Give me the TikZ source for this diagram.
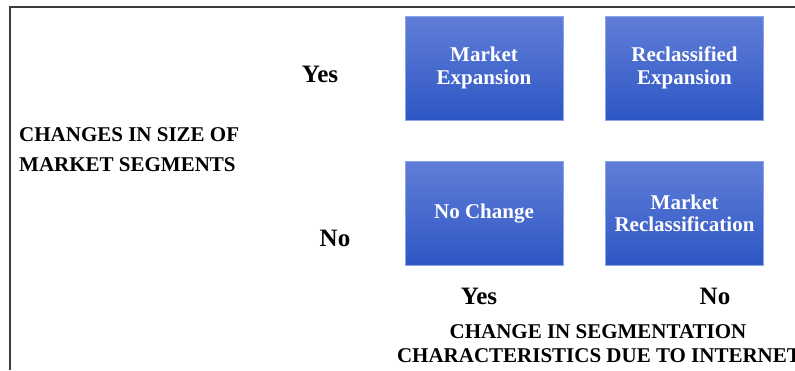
\documentclass[tikz,border=0pt]{standalone}
\usepackage{fontspec}
\setmainfont{Liberation Serif}
\definecolor{boxtop}{RGB}{96,126,216}
\definecolor{boxbot}{RGB}{46,86,196}
\definecolor{boxedge}{RGB}{140,165,232}
\definecolor{frameline}{RGB}{60,60,60}
\tikzset{
  quad/.style={rectangle, minimum width=158pt, minimum height=104pt, top color=boxtop, bottom color=boxbot, draw=boxedge, line width=0.8pt, text=white, font=\bfseries\fontsize{21}{22.5}\selectfont, align=center, inner sep=0pt},
  lbl/.style={font=\bfseries\fontsize{25}{26}\selectfont, inner sep=0pt},
  captxt/.style={font=\bfseries\fontsize{21}{22}\selectfont, inner sep=0pt},
}
\begin{document}
\begin{tikzpicture}[x=1pt,y=-1pt]
\useasboundingbox (0,0) rectangle (795,370);
\coordinate (tl) at (10,7);
\coordinate (tr) at (795,7);
\coordinate (bl) at (10,370);
\draw[frameline, line width=1.4pt] (tr) -- (tl) -- (bl);

\node[quad] (me) at (484,68) {Market\\Expansion};
\node[quad] (re) at (684.5,68) {Reclassified\\Expansion};
\node[quad] (nc) at (484,213.5) {No Change};
\node[quad] (mr) at (684.5,213.5) {Market\\Reclassification};

\node[lbl] (yl) at (320,74) {Yes};
\node[lbl] (nl) at (335,238) {No};
\node[lbl] (yb) at (479,296) {Yes};
\node[lbl] (nb) at (715,296) {No};

\node[captxt, anchor=west] (c1) at (19,135) {CHANGES IN SIZE OF};
\node[captxt, anchor=west] (c2) at (19,165) {MARKET SEGMENTS};
\node[captxt] (b1) at (598,332) {CHANGE IN SEGMENTATION};
\node[captxt] (b2) at (599,356) {CHARACTERISTICS DUE TO INTERNET};
\end{tikzpicture}
\end{document}
